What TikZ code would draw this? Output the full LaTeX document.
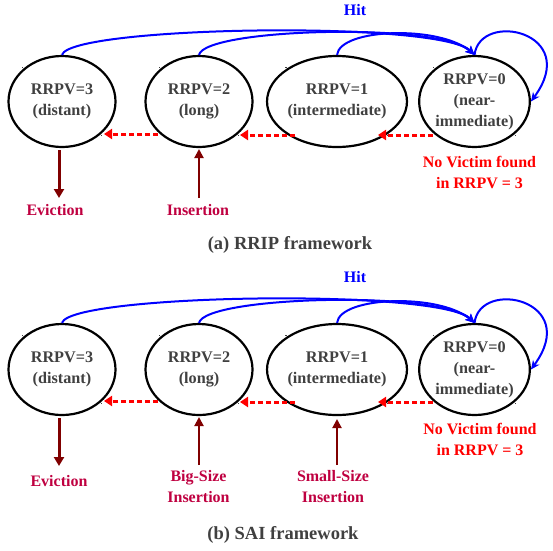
\documentclass[tikz,border=0pt]{standalone}
\usepackage{fontspec}
\setmainfont{Liberation Serif}
\usetikzlibrary{shapes.geometric,arrows.meta}
\definecolor{txtgray}{HTML}{404040}
\definecolor{lblpurple}{HTML}{BF0040}
\definecolor{maroonc}{HTML}{800000}
\begin{document}
\begin{tikzpicture}[x=1pt,y=-1pt,
  state/.style={ellipse,draw=black,line width=2.2pt,minimum width=107pt,minimum height=91pt,inner sep=0pt,
    align=center,text=txtgray,font=\fontsize{16.2}{21}\selectfont\bfseries},
  lbl/.style={align=center,text=lblpurple,font=\fontsize{16}{21}\selectfont\bfseries},
  redlbl/.style={align=center,text=red,font=\fontsize{16}{21}\selectfont\bfseries},
  hitlbl/.style={text=blue,font=\fontsize{16}{19}\selectfont\bfseries},
  caption/.style={text=txtgray,font=\fontsize{18.5}{22}\selectfont\bfseries},
  hit/.style={draw=blue,line width=2pt,-{Stealth[length=9pt,width=8pt]}},
  demote/.style={draw=red,line width=3pt,dash pattern=on 5pt off 3pt,-{Triangle[length=8pt,width=10pt]}},
  evict/.style={draw=maroonc,line width=3pt,-{Triangle[length=9pt,width=10pt]}},
  insert/.style={draw=maroonc,line width=2pt,-{Triangle[length=9pt,width=9pt]}},
  cornerdot/.style={fill=txtgray,inner sep=0pt,minimum size=1.6pt,rectangle}
]
\useasboundingbox (0,0) rectangle (553,550);

% ===== (a) RRIP =====
\node[state] (a3) at (62,101.5) {RRPV=3\\(distant)};
\node[state] (a2) at (199,101.5) {RRPV=2\\(long)};
\node[state] (a1) at (337,101.5) {RRPV=1\\(intermediate)};
\node[state] (a0) at (474.5,101.5) {RRPV=0\\(near-\\immediate)};
\foreach \n in {a3,a2,a1,a0}{
  \node[cornerdot] at ([xshift=-1pt,yshift=1pt]\n.north west) {};
  \node[cornerdot] at ([xshift=1pt,yshift=-1pt]\n.south east) {};
}
\node[hitlbl] (ahit) at (355,10) {Hit};
\draw[hit] (a3.north) .. controls (70,26) and (440,20) .. (a0.north);
\draw[hit] (a2.north) .. controls (205,28) and (440,22) .. (a0.north);
\draw[hit] (a1.north) .. controls (340,28) and (440,25) .. (a0.north);
\draw[hit] (a0.north) .. controls (480,10) and (582,32) .. (a0.east);

\coordinate (a2d) at (158,134);
\coordinate (a3d) at (104,134);
\coordinate (a1d) at (295,135);
\coordinate (a2e) at (240,135);
\coordinate (a0d) at (433,135);
\coordinate (a1e) at (378,135);
\draw[demote] (a2d) -- (a3d);
\draw[demote] (a1d) -- (a2e);
\draw[demote] (a0d) -- (a1e);

\node[redlbl] (anv) at (479.5,172.5) {No Victim found\\in RRPV = 3};
\node[lbl] (aev) at (55,210) {Eviction};
\node[lbl] (ain) at (198,210) {Insertion};
\coordinate (aevs) at (59,150);
\coordinate (aeve) at (59,198);
\draw[evict] (aevs) -- (aeve);
\coordinate (ains) at (199,198);
\coordinate (aine) at (199,149);
\draw[insert] (ains) -- (aine);

\node[caption] (acap) at (290,244.5) {(a) RRIP framework};

% ===== (b) SAI =====
\node[state] (b3) at (62,369.5) {RRPV=3\\(distant)};
\node[state] (b2) at (199,369.5) {RRPV=2\\(long)};
\node[state] (b1) at (337,369.5) {RRPV=1\\(intermediate)};
\node[state] (b0) at (474.5,369.5) {RRPV=0\\(near-\\immediate)};
\foreach \n in {b3,b2,b1,b0}{
  \node[cornerdot] at ([xshift=-1pt,yshift=1pt]\n.north west) {};
  \node[cornerdot] at ([xshift=1pt,yshift=-1pt]\n.south east) {};
}
\node[hitlbl] (bhit) at (355,277) {Hit};
\draw[hit] (b3.north) .. controls (70,294) and (440,288) .. (b0.north);
\draw[hit] (b2.north) .. controls (205,296) and (440,290) .. (b0.north);
\draw[hit] (b1.north) .. controls (340,296) and (440,293) .. (b0.north);
\draw[hit] (b0.north) .. controls (480,278) and (582,300) .. (b0.east);

\coordinate (b2d) at (158,401);
\coordinate (b3d) at (104,401);
\coordinate (b1d) at (295,402);
\coordinate (b2e) at (240,402);
\coordinate (b0d) at (433,402);
\coordinate (b1e) at (378,402);
\draw[demote] (b2d) -- (b3d);
\draw[demote] (b1d) -- (b2e);
\draw[demote] (b0d) -- (b1e);

\node[redlbl] (bnv) at (480,439.5) {No Victim found\\in RRPV = 3};
\node[lbl] (bev) at (59,481) {Eviction};
\node[lbl] (bbig) at (198.5,486.5) {Big-Size\\Insertion};
\node[lbl] (bsmall) at (333,486.5) {Small-Size\\Insertion};
\coordinate (bevs) at (59,418);
\coordinate (beve) at (59,466);
\draw[evict] (bevs) -- (beve);
\coordinate (bbigs) at (199,465);
\coordinate (bbige) at (199,417);
\draw[insert] (bbigs) -- (bbige);
\coordinate (bsms) at (337,465);
\coordinate (bsme) at (337,419);
\draw[insert] (bsms) -- (bsme);

\node[caption] (bcap) at (283,535) {(b) SAI framework};
\end{tikzpicture}
\end{document}
